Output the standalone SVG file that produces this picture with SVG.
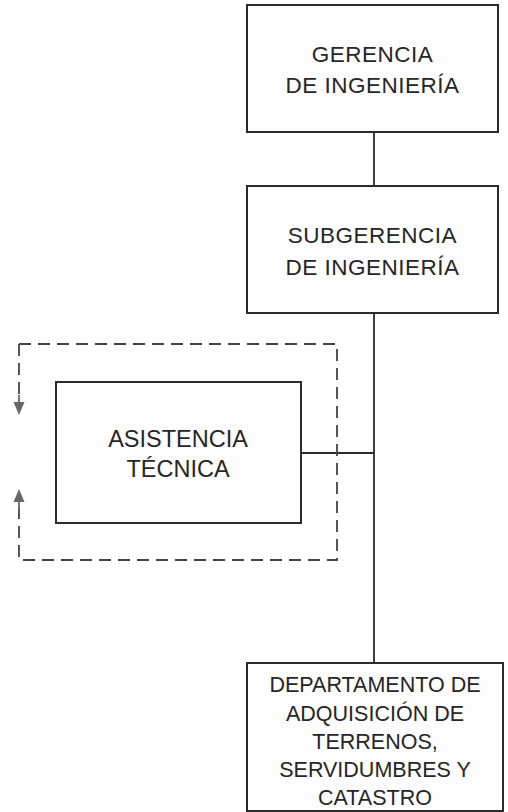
<svg xmlns="http://www.w3.org/2000/svg" width="508" height="812" viewBox="0 0 508 812">
<style>
.box{fill:#fdfdfd;stroke:#2b2b2b;stroke-width:2}
.lbl{font-family:"Liberation Sans",Arial,sans-serif;font-size:22.5px;fill:#262626;text-anchor:middle;letter-spacing:0.5px}
.small{font-size:21.5px;letter-spacing:0}
.big{font-size:23.5px;letter-spacing:0}
.conn{stroke:#2b2b2b;stroke-width:1.8;fill:none}
.dash{stroke:#444;stroke-width:1.8;fill:none;stroke-dasharray:12 7}
.head{fill:#666}
</style>
<rect width="508" height="812" fill="#ffffff"/>
<g id="connectors">
<line class="conn" x1="374" y1="132" x2="374" y2="186"/>
<line class="conn" x1="374" y1="313" x2="374" y2="663"/>
<line class="conn" x1="301" y1="453" x2="374" y2="453"/>
<path class="dash" d="M19,344 H337 V560 H19 V503"/>
<line x1="19" y1="344" x2="19" y2="403" stroke="#444" stroke-width="1.8" stroke-dasharray="12 7"/>
<line x1="19" y1="395" x2="19" y2="405" stroke="#666" stroke-width="1.8"/>
<path class="head" d="M13.5,402 L24.5,402 L19,415 z"/>
<line x1="19" y1="500" x2="19" y2="510" stroke="#666" stroke-width="1.8"/>
<path class="head" d="M13.5,502 L24.5,502 L19,489 z"/>
</g>
<g id="gerencia">
<rect class="box" x="247" y="5" width="251" height="127"/>
<text class="lbl" x="372.5" y="62">GERENCIA</text>
<text class="lbl" x="372.5" y="93">DE INGENIERÍA</text>
</g>
<g id="subgerencia">
<rect class="box" x="247" y="186" width="251" height="127"/>
<text class="lbl" x="372.5" y="243">SUBGERENCIA</text>
<text class="lbl" x="372.5" y="275">DE INGENIERÍA</text>
</g>
<g id="asistencia">
<rect class="box" x="56" y="382" width="245" height="141"/>
<text class="lbl big" x="178" y="447">ASISTENCIA</text>
<text class="lbl big" x="178" y="477">TÉCNICA</text>
</g>
<g id="departamento">
<rect class="box" x="247" y="663" width="256" height="148"/>
<text class="lbl small" x="375" y="692">DEPARTAMENTO DE</text>
<text class="lbl small" x="375" y="721">ADQUISICIÓN DE</text>
<text class="lbl small" x="375" y="749">TERRENOS,</text>
<text class="lbl small" x="375" y="777">SERVIDUMBRES Y</text>
<text class="lbl small" x="375" y="805">CATASTRO</text>
</g>
</svg>
